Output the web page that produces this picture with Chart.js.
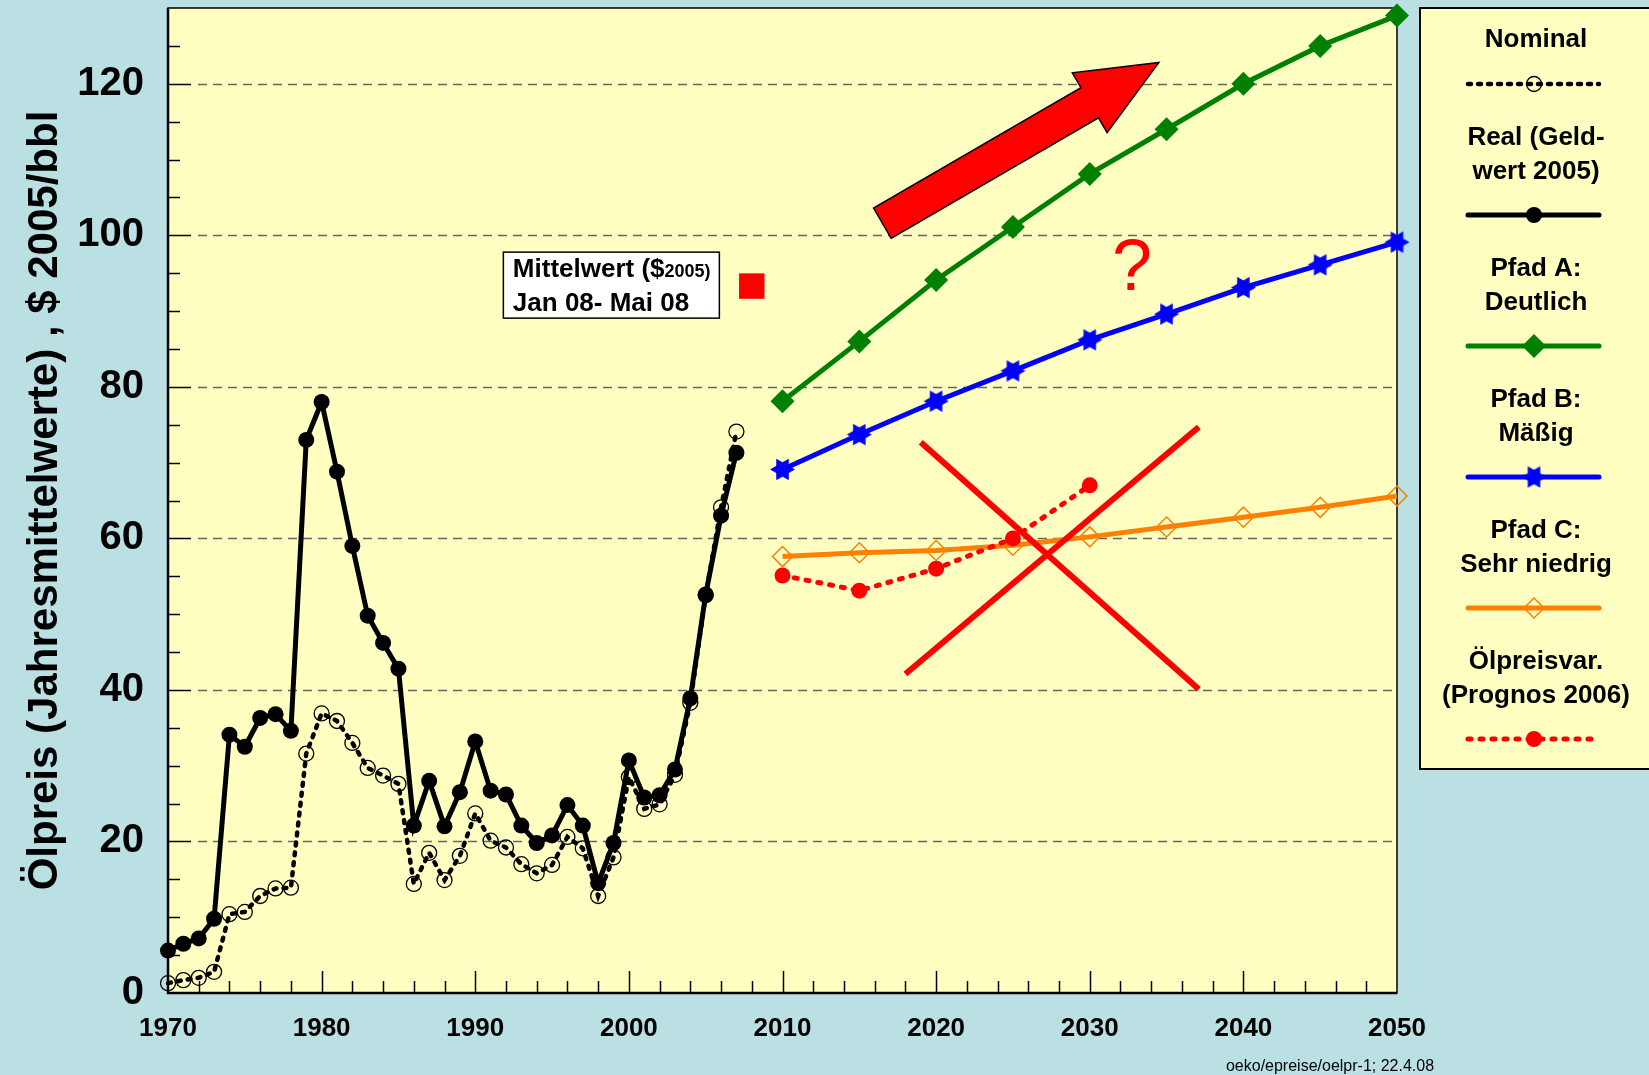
<!DOCTYPE html>
<html>
<head>
<meta charset="utf-8">
<title>Ölpreis</title>
<script src="https://cdn.jsdelivr.net/npm/chart.js@4.4.1/dist/chart.umd.min.js"></script>
<style>
  html, body { margin: 0; padding: 0; background: #BAE0E4; overflow: hidden; }
  #wrap { width: 1649px; height: 1075px; }
</style>
</head>
<body>
<div id="wrap"><canvas id="oelChart" width="1649" height="1075"></canvas></div>
<script>
// historical yearly averages
var histYears = [1970, 1971, 1972, 1973, 1974, 1975, 1976, 1977, 1978, 1979,
                 1980, 1981, 1982, 1983, 1984, 1985, 1986, 1987, 1988, 1989,
                 1990, 1991, 1992, 1993, 1994, 1995, 1996, 1997, 1998, 1999,
                 2000, 2001, 2002, 2003, 2004, 2005, 2006, 2007];
var nominal = [1.3, 1.7, 2.0, 2.8, 10.4, 10.7, 12.8, 13.8, 13.9, 31.6,
               36.9, 35.9, 33.0, 29.7, 28.7, 27.6, 14.4, 18.5, 14.9, 18.1,
               23.7, 20.1, 19.2, 17.0, 15.8, 16.9, 20.6, 19.1, 12.8, 17.9,
               28.5, 24.3, 24.9, 28.8, 38.3, 52.5, 64.1, 74.1];
var real = [5.6, 6.5, 7.2, 9.8, 34.1, 32.5, 36.3, 36.8, 34.6, 73.0,
            78.0, 68.8, 59.0, 49.8, 46.2, 42.8, 22.1, 28.0, 22.0, 26.5,
            33.2, 26.7, 26.2, 22.1, 19.8, 20.8, 24.8, 22.1, 14.5, 19.8,
            30.7, 25.8, 26.1, 29.5, 38.9, 52.6, 63.0, 71.3];

// scenarios
var pathYears = [2010, 2015, 2020, 2025, 2030, 2035, 2040, 2045, 2050];
var pfadA = [78.1, 86.0, 94.1, 101.1, 108.1, 114.0, 120.0, 125.0, 129.0];
var pfadB = [69.1, 73.7, 78.1, 82.1, 86.2, 89.6, 93.1, 96.1, 99.1];
var pfadC = [57.6, 58.1, 58.4, 59.1, 60.2, 61.5, 62.8, 64.1, 65.6];
var prognosYears = [2010, 2015, 2020, 2025, 2030];
var prognos = [55.1, 53.1, 56.0, 60.0, 67.0];

// Mittelwert Jan 08 - Mai 08
var mittelYear = [2008];
var mittelValue = [93.3];

// the crossing-out lines
var cross1Years = [2019.0, 2037.1];
var cross1Values = [72.7, 40.1];
var cross2Years = [2018.0, 2037.1];
var cross2Values = [42.1, 74.7];

var xTicks = [1970, 1980, 1990, 2000, 2010, 2020, 2030, 2040, 2050];
var yTicks = [0, 20, 40, 60, 80, 100, 120];

var FONT = '"Liberation Sans", Arial, Helvetica, sans-serif';
var BG = '#BAE0E4';
var PAPER = '#FFFFC2';

function pts(xs, ys) {
    var out = [];
    for (var i = 0; i < xs.length; i++) {
        out.push({x: xs[i], y: ys[i]});
    }
    return out;
}

// six pointed star marker, points left and right
function makeStar(color, r) {
    var c = document.createElement('canvas');
    var s = Math.ceil(r * 2 + 4);
    c.width = s;
    c.height = s;
    var g = c.getContext('2d');
    g.fillStyle = color;
    for (var t = 0; t < 2; t++) {
        g.beginPath();
        for (var k = 0; k < 3; k++) {
            var a = (t * 60 + k * 120) * Math.PI / 180;
            var px = s / 2 + r * Math.cos(a), py = s / 2 + r * Math.sin(a);
            if (k === 0) g.moveTo(px, py); else g.lineTo(px, py);
        }
        g.closePath();
        g.fill();
    }
    return c;
}
var blueStar = makeStar('#0000FF', 12.5);

var dsNominal = {
    label: 'Nominal', legendText: ['Nominal'],
    data: pts(histYears, nominal),
    borderColor: '#000', borderWidth: 4.5, borderDash: [3, 7], borderCapStyle: 'round',
    pointStyle: 'circle', pointRadius: 7.5, pointBackgroundColor: 'rgba(0,0,0,0)',
    pointBorderColor: '#000', pointBorderWidth: 1.3, clip: false
};
var dsReal = {
    label: 'Real', legendText: ['Real (Geld-', 'wert 2005)'],
    data: pts(histYears, real),
    borderColor: '#000', borderWidth: 5,
    pointStyle: 'circle', pointRadius: 8, pointBackgroundColor: '#000',
    pointBorderColor: '#000', pointBorderWidth: 0, clip: false
};
var dsA = {
    label: 'Pfad A', legendText: ['Pfad A:', 'Deutlich'],
    data: pts(pathYears, pfadA),
    borderColor: '#008000', borderWidth: 5,
    pointStyle: 'rectRot', pointRadius: 12, pointBackgroundColor: '#008000',
    pointBorderColor: '#008000', pointBorderWidth: 0, clip: false
};
var dsB = {
    label: 'Pfad B', legendText: ['Pfad B:', 'Mäßig'],
    data: pts(pathYears, pfadB),
    borderColor: '#0000FF', borderWidth: 5,
    pointStyle: blueStar, pointRadius: 12, clip: false
};
var dsC = {
    label: 'Pfad C', legendText: ['Pfad C:', 'Sehr niedrig'],
    data: pts(pathYears, pfadC),
    borderColor: '#FF8000', borderWidth: 5,
    pointStyle: 'rectRot', pointRadius: 10, pointBackgroundColor: 'rgba(0,0,0,0)',
    pointBorderColor: '#FF8000', pointBorderWidth: 1.5, clip: false
};
var dsPrognos = {
    label: 'Prognos', legendText: ['Ölpreisvar.', '(Prognos 2006)'],
    data: pts(prognosYears, prognos),
    borderColor: '#FF0000', borderWidth: 5, borderDash: [3, 9], borderCapStyle: 'round',
    pointStyle: 'circle', pointRadius: 8, pointBackgroundColor: '#FF0000',
    pointBorderColor: '#FF0000', pointBorderWidth: 0, clip: false
};
var dsMittel = {
    label: 'Mittelwert', data: pts(mittelYear, mittelValue), showLine: false,
    pointStyle: 'rect', pointRadius: 18, pointBackgroundColor: '#FF0000',
    pointBorderWidth: 0, clip: false
};
var dsCross1 = {
    label: 'x1', data: pts(cross1Years, cross1Values),
    borderColor: '#FF0000', borderWidth: 6, pointRadius: 0, clip: false
};
var dsCross2 = {
    label: 'x2', data: pts(cross2Years, cross2Values),
    borderColor: '#FF0000', borderWidth: 6, pointRadius: 0, clip: false
};

var legendSets = [dsNominal, dsReal, dsA, dsB, dsC, dsPrognos];

function drawMarker(ctx, ds, x, y) {
    var style = ds.pointStyle, r = ds.pointRadius;
    ctx.save();
    if (style instanceof HTMLCanvasElement) {
        ctx.drawImage(style, x - style.width / 2, y - style.height / 2);
        ctx.restore();
        return;
    }
    ctx.beginPath();
    if (style === 'rectRot') {
        ctx.moveTo(x - r, y); ctx.lineTo(x, y - r); ctx.lineTo(x + r, y); ctx.lineTo(x, y + r);
        ctx.closePath();
    } else {
        ctx.arc(x, y, r, 0, Math.PI * 2);
    }
    ctx.fillStyle = ds.pointBackgroundColor;
    ctx.fill();
    if (ds.pointBorderWidth) {
        ctx.lineWidth = ds.pointBorderWidth;
        ctx.strokeStyle = ds.pointBorderColor;
        ctx.stroke();
    }
    ctx.restore();
}

var paperPlugin = {
    id: 'paper',
    beforeDraw: function(chart) {
        var ctx = chart.ctx, a = chart.chartArea;
        ctx.save();
        ctx.fillStyle = BG;
        ctx.fillRect(0, 0, chart.width, chart.height);
        ctx.fillStyle = PAPER;
        ctx.fillRect(a.left, a.top, a.right - a.left, a.bottom - a.top);
        ctx.restore();
    },
    beforeDatasetsDraw: function(chart) {
        var ctx = chart.ctx, a = chart.chartArea;
        var xs = chart.scales.x, ys = chart.scales.y;
        ctx.save();
        // dashed grid lines
        ctx.strokeStyle = '#666';
        ctx.lineWidth = 1.6;
        ctx.setLineDash([9, 6]);
        yTicks.forEach(function(v) {
            if (v === 0) return;
            var py = Math.round(ys.getPixelForValue(v)) + 0.5;
            ctx.beginPath();
            ctx.moveTo(a.left + 30, py);
            ctx.lineTo(a.right - 4, py);
            ctx.stroke();
        });
        ctx.setLineDash([]);
        // inner tick marks
        ctx.strokeStyle = '#000';
        ctx.lineWidth = 1.5;
        var v, p, len;
        for (v = 5; v < 130; v += 5) {
            p = Math.round(ys.getPixelForValue(v)) + 0.5;
            len = (v % 20 === 0) ? 23 : 12;
            ctx.beginPath(); ctx.moveTo(a.left, p); ctx.lineTo(a.left + len, p); ctx.stroke();
        }
        for (v = 1972; v < 2050; v += 2) {
            p = Math.round(xs.getPixelForValue(v)) + 0.5;
            len = (v % 10 === 0) ? 22 : 12;
            ctx.beginPath(); ctx.moveTo(p, a.bottom); ctx.lineTo(p, a.bottom - len); ctx.stroke();
        }
        // frame
        ctx.lineWidth = 1.5;
        ctx.strokeRect(a.left, a.top, a.right - a.left, a.bottom - a.top);
        ctx.lineWidth = 2.5;
        ctx.beginPath();
        ctx.moveTo(a.left, a.top); ctx.lineTo(a.left, a.bottom); ctx.lineTo(a.right, a.bottom);
        ctx.stroke();
        ctx.restore();
    },
    afterDatasetsDraw: function(chart) {
        var ctx = chart.ctx;
        var xs = chart.scales.x, ys = chart.scales.y;
        ctx.save();

        // big red arrow
        var tx = xs.getPixelForValue(2016.5), ty = ys.getPixelForValue(101.6);
        var hx = xs.getPixelForValue(2034.5), hy = ys.getPixelForValue(122.8);
        var dx = hx - tx, dy = hy - ty, L = Math.sqrt(dx * dx + dy * dy);
        var ux = dx / L, uy = dy / L, nx = -uy, ny = ux;
        var sw = 17.5, hw = 34.6, hl = 80;
        var bx = hx - ux * hl, by = hy - uy * hl;
        ctx.beginPath();
        ctx.moveTo(tx + nx * sw, ty + ny * sw);
        ctx.lineTo(bx + nx * sw, by + ny * sw);
        ctx.lineTo(bx + nx * hw, by + ny * hw);
        ctx.lineTo(hx, hy);
        ctx.lineTo(bx - nx * hw, by - ny * hw);
        ctx.lineTo(bx - nx * sw, by - ny * sw);
        ctx.lineTo(tx - nx * sw, ty - ny * sw);
        ctx.closePath();
        ctx.fillStyle = '#FF0000';
        ctx.fill();
        ctx.lineWidth = 1.5;
        ctx.strokeStyle = '#000';
        ctx.stroke();

        // question mark
        ctx.fillStyle = '#FF0000';
        ctx.font = '72px ' + FONT;
        ctx.textAlign = 'center';
        ctx.textBaseline = 'alphabetic';
        ctx.fillText('?', xs.getPixelForValue(2032.75), ys.getPixelForValue(92.8));

        // text box
        var bxl = xs.getPixelForValue(1991.83), byt = ys.getPixelForValue(97.78);
        ctx.fillStyle = '#FFFFFF';
        ctx.fillRect(bxl, byt, 216, 66);
        ctx.lineWidth = 1.5;
        ctx.strokeStyle = '#000';
        ctx.strokeRect(bxl, byt, 216, 66);
        ctx.fillStyle = '#000';
        ctx.textAlign = 'left';
        ctx.font = 'bold 26px ' + FONT;
        var first = 'Mittelwert ($';
        ctx.fillText(first, bxl + 9.5, byt + 25);
        var w1 = ctx.measureText(first).width;
        ctx.font = 'bold 18px ' + FONT;
        ctx.fillText('2005)', bxl + 9.5 + w1, byt + 25);
        ctx.font = 'bold 26px ' + FONT;
        ctx.fillText('Jan 08- Mai 08', bxl + 9.5, byt + 58.4);
        ctx.restore();
    },
    afterDraw: function(chart) {
        var ctx = chart.ctx;
        ctx.save();
        // legend box
        ctx.fillStyle = PAPER;
        ctx.fillRect(1420, 8, 260, 761);
        ctx.lineWidth = 2;
        ctx.strokeStyle = '#000';
        ctx.strokeRect(1420, 8, 260, 761);

        ctx.textAlign = 'center';
        ctx.textBaseline = 'middle';
        ctx.font = 'bold 26px ' + FONT;
        legendSets.forEach(function(ds, i) {
            var ly = 84 + i * 131;
            var lines = ds.legendText;
            ctx.fillStyle = '#000';
            if (lines.length === 1) {
                ctx.fillText(lines[0], 1536, ly - 44);
            } else {
                ctx.fillText(lines[0], 1536, ly - 77);
                ctx.fillText(lines[1], 1536, ly - 43.5);
            }
            ctx.save();
            ctx.strokeStyle = ds.borderColor;
            ctx.lineWidth = ds.borderWidth;
            ctx.lineCap = ds.borderCapStyle || 'round';
            ctx.setLineDash(ds.borderDash || []);
            ctx.beginPath();
            ctx.moveTo(1468, ly);
            ctx.lineTo(1599, ly);
            ctx.stroke();
            ctx.restore();
            drawMarker(ctx, ds, 1534, ly);
        });

        // source note
        ctx.fillStyle = '#000';
        ctx.font = '16px ' + FONT;
        ctx.textAlign = 'center';
        ctx.textBaseline = 'alphabetic';
        ctx.fillText('oeko/epreise/oelpr-1; 22.4.08', 1330, 1071);
        ctx.restore();
    }
};

Chart.defaults.font.family = FONT;
Chart.defaults.color = '#000';

var ctx = document.getElementById('oelChart').getContext('2d');
var oelChart = new Chart(ctx, {
    type: 'line',
    data: {
        datasets: [dsCross1, dsCross2, dsMittel, dsReal, dsNominal, dsPrognos, dsA, dsB, dsC]
    },
    options: {
        responsive: false,
        animation: false,
        devicePixelRatio: 1,
        layout: { autoPadding: false, padding: { left: 0, right: 252, top: 8, bottom: 0 } },
        plugins: {
            legend: { display: false },
            tooltip: { enabled: false }
        },
        scales: {
            x: {
                type: 'linear', min: 1970, max: 2050,
                grid: { display: false, drawTicks: false },
                border: { display: false },
                afterBuildTicks: function(s) { s.ticks = xTicks.map(function(v) { return {value: v}; }); },
                afterFit: function(s) { s.height = 82; s.paddingLeft = 0; s.paddingRight = 0; },
                ticks: {
                    padding: 20, autoSkip: false, maxRotation: 0,
                    font: { size: 26, weight: 'bold' }, color: '#000',
                    callback: function(v) { return String(v); }
                }
            },
            y: {
                type: 'linear', min: 0, max: 130,
                grid: { display: false, drawTicks: false },
                border: { display: false },
                afterBuildTicks: function(s) { s.ticks = yTicks.map(function(v) { return {value: v}; }); },
                afterFit: function(s) { s.width = 168; s.paddingTop = 0; s.paddingBottom = 0; },
                ticks: {
                    padding: 24,
                    font: { size: 40, weight: 'bold' }, color: '#000',
                    callback: function(v) { return String(v); }
                },
                title: {
                    display: true,
                    text: 'Ölpreis (Jahresmittelwerte) , $ 2005/bbl',
                    font: { size: 42, weight: 'bold' }, color: '#000',
                    padding: { top: 20, bottom: 0 }
                }
            }
        }
    },
    plugins: [paperPlugin]
});
</script>
</body>
</html>
